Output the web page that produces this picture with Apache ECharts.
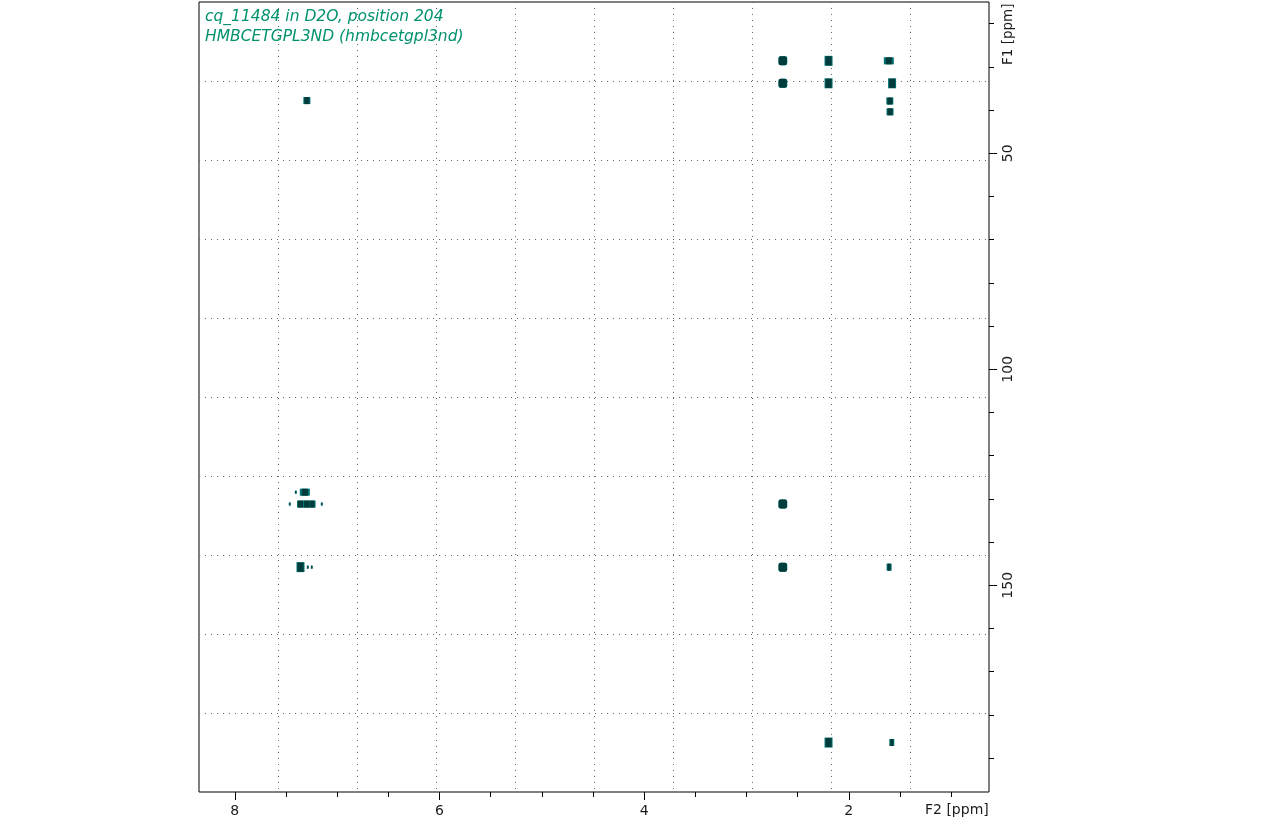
<!DOCTYPE html>
<html>
<head>
<meta charset="utf-8">
<script src="https://cdn.jsdelivr.net/npm/echarts@6/dist/echarts.min.js"></script>
<style>
html, body { margin: 0; padding: 0; background: #fff; }
#main { width: 1285px; height: 821px; }
</style>
</head>
<body>
<div id="main"></div>
<script>
var titleLines = ['cq_11484 in D2O, position 204', 'HMBCETGPL3ND (hmbcetgpl3nd)'];
var f2Label = 'F2 [ppm]';
var f1Label = 'F1 [ppm]';

var f2Range = [0.63, 8.35];
var f1Range = [14.98, 197.85];
var f2Major = [8, 6, 4, 2];
var f2Minor = [7.5, 7, 6.5, 5.5, 5, 4.5, 3.5, 3, 2.5, 1.5, 1];
var f1Major = [50, 100, 150];
var f1Minor = [20, 30, 40, 60, 70, 80, 90, 110, 120, 130, 140, 160, 170, 180, 190];

// cross peaks as [F2, F1] in ppm, grouped by how large the contour looks
var roundPeaks = [[2.645, 28.6], [2.645, 33.8], [2.645, 131.2], [2.645, 145.8]];
var tallPeaks = [[2.198, 28.6], [2.198, 33.8], [1.577, 33.8], [2.198, 186.4], [7.358, 145.8]];
var widePeaks = [[1.609, 28.6], [7.316, 128.45]];
var smallPeaks = [[1.599, 37.9], [1.597, 40.4], [7.296, 37.8], [7.358, 131.2], [7.299, 131.2], [7.245, 131.2]];
var narrowPeaks = [[1.606, 145.8], [1.58, 186.4]];
var specks = [[7.404, 128.45], [7.463, 131.2], [7.15, 131.2], [7.287, 145.8], [7.248, 145.8]];

var peakGroups = [
	{ data: roundPeaks, symbol: 'roundRect', rim: [9, 9], core: [8, 9] },
	{ data: tallPeaks, symbol: 'rect', rim: [8, 10], core: [6, 9] },
	{ data: widePeaks, symbol: 'rect', rim: [10, 7], core: [6, 7] },
	{ data: smallPeaks, symbol: 'rect', rim: [7, 7], core: [5, 7] },
	{ data: narrowPeaks, symbol: 'rect', rim: [5, 7], core: [3, 7] },
	{ data: specks, symbol: 'rect', rim: [2, 3], core: [1, 3] }
];

function peak_series() {
	var series = [];
	peakGroups.forEach(function (g) {
		series.push({
			type: 'scatter', xAxisIndex: 0, yAxisIndex: 0, silent: true, animation: false,
			data: g.data, symbol: g.symbol, symbolSize: g.rim,
			itemStyle: { color: '#007070', opacity: 1 }
		});
		series.push({
			type: 'scatter', xAxisIndex: 0, yAxisIndex: 0, silent: true, animation: false,
			data: g.data, symbol: g.symbol, symbolSize: g.core,
			itemStyle: { color: '#003c3c', opacity: 1 }
		});
	});
	return series;
}

var plotRect = { left: 199, top: 2, width: 790, height: 790 };
var inkColor = '#1c1c1c';
var labelFont = { fontFamily: 'DejaVu Sans', fontSize: 14, color: inkColor };

function tick_axis(gridIndex, range, values, len, labels, position) {
	return {
		type: 'value', gridIndex: gridIndex, position: position, inverse: true,
		min: range[0], max: range[1],
		axisLine: { show: false },
		axisTick: { show: true, inside: false, length: len, customValues: values, lineStyle: { color: '#000', width: 1 } },
		axisLabel: labels
			? Object.assign({ show: true, customValues: values, margin: 12, hideOverlap: false, showMinLabel: true, showMaxLabel: true,
				rotate: position === 'right' ? 90 : 0 }, labelFont)
			: { show: false },
		splitLine: { show: false }
	};
}

// the dotted raster has ten even divisions, it does not follow the ppm ticks
function raster_axis(gridIndex) {
	return {
		type: 'value', gridIndex: gridIndex, min: 0, max: 10, interval: 1,
		axisLine: { show: false }, axisTick: { show: false }, axisLabel: { show: false },
		splitLine: { show: true, showMinLine: false, showMaxLine: false, lineStyle: { color: '#666', width: 1, type: [1, 5] } }
	};
}

var myChart = echarts.init(document.getElementById('main'), null, { renderer: 'canvas' });
myChart.setOption({
	animation: false,
	backgroundColor: '#fff',
	title: {
		text: titleLines.join('\n'), left: 205, top: 7, padding: 0,
		textStyle: { fontFamily: 'DejaVu Sans', fontStyle: 'italic', fontWeight: 'normal', fontSize: 15.5, lineHeight: 20, color: '#00926e' }
	},
	grid: [
		Object.assign({ show: true, borderColor: '#000', borderWidth: 1, backgroundColor: 'transparent' }, plotRect),
		Object.assign({}, plotRect),
		Object.assign({}, plotRect)
	],
	xAxis: [
		tick_axis(0, f2Range, f2Major, 8, true, 'bottom'),
		tick_axis(1, f2Range, f2Minor, 5, false, 'bottom'),
		raster_axis(2)
	],
	yAxis: [
		tick_axis(0, f1Range, f1Major, 8, true, 'right'),
		tick_axis(1, f1Range, f1Minor, 5, false, 'right'),
		raster_axis(2)
	],
	graphic: [
		{ type: 'text', x: 925, y: 803, silent: true,
			style: { text: f2Label, font: '14px "DejaVu Sans"', fill: inkColor } },
		{ type: 'text', x: 1001, y: 65, rotation: Math.PI / 2, silent: true,
			style: { text: f1Label, font: '13.5px "DejaVu Sans"', fill: inkColor } }
	],
	series: peak_series()
});
</script>
</body>
</html>
